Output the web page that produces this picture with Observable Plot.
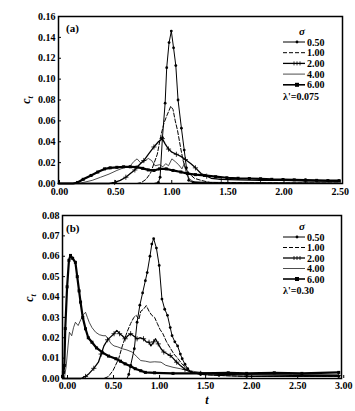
<!DOCTYPE html>
<html><head><meta charset="utf-8">
<script src="https://cdn.jsdelivr.net/npm/d3@7"></script>
<script src="https://cdn.jsdelivr.net/npm/@observablehq/plot@0.6"></script>
<style>
body{margin:0;background:#fff;}
#wrap{position:relative;width:355px;height:411px;overflow:hidden;background:#fff;}
#wrap svg{position:absolute;left:0;}
</style></head><body><div id="wrap"></div>
<script>
const sigmaLabels = ["0.50","1.00","2.00","4.00","6.00"];
const xTicksA = [0,0.5,1.0,1.5,2.0,2.5];
const yTicksA = [0,0.02,0.04,0.06,0.08,0.10,0.12,0.14,0.16];
const xTicksB = [0,0.5,1.0,1.5,2.0,2.5,3.0];
const yTicksB = [0,0.01,0.02,0.03,0.04,0.05,0.06,0.07,0.08];
const lambdaA = "λ'=0.075";
const lambdaB = "λ'=0.30";

// Panel (a) series: [t, c_t]
const a050 = [[0,0],[0.3,0],[0.6,0],[0.85,0],[0.89,0.001],[0.905,0.006],[0.926,0.044],[0.95,0.077],[0.964,0.111],[0.985,0.135],[1.005,0.146],[1.025,0.13],[1.045,0.113],[1.065,0.080],[1.095,0.053],[1.12,0.032],[1.14,0.015],[1.16,0.003],[1.2,0.001],[1.5,0.0005],[2.0,0.0003],[2.5,0.0002]];
const a100 = [[0,0],[0.7,0],[0.74,0.001],[0.78,0.004],[0.82,0.010],[0.85,0.019],[0.88,0.028],[0.91,0.045],[0.94,0.058],[0.965,0.065],[0.985,0.070],[1.0,0.074],[1.02,0.071],[1.04,0.060],[1.06,0.051],[1.09,0.033],[1.11,0.022],[1.13,0.015],[1.17,0.009],[1.21,0.005],[1.27,0.003],[1.35,0.001],[1.6,0.0008],[2.0,0.0005],[2.5,0.0004]];
const a200 = [[0,0],[0.45,0],[0.5,0.001],[0.55,0.003],[0.6,0.006],[0.64,0.0096],[0.68,0.013],[0.72,0.018],[0.76,0.022],[0.8,0.028],[0.85,0.035],[0.89,0.040],[0.925,0.043],[0.95,0.038],[0.98,0.033],[1.01,0.030],[1.05,0.028],[1.09,0.026],[1.13,0.023],[1.18,0.019],[1.22,0.015],[1.27,0.0096],[1.32,0.007],[1.36,0.005],[1.45,0.004],[1.6,0.0035],[1.8,0.003],[2.0,0.003],[2.2,0.0025],[2.5,0.002]];
const a400 = [[0,0],[0.18,0],[0.22,0.001],[0.3,0.003],[0.375,0.006],[0.45,0.009],[0.52,0.0125],[0.58,0.015],[0.64,0.017],[0.67,0.021],[0.70,0.0236],[0.73,0.020],[0.76,0.021],[0.8,0.024],[0.83,0.022],[0.86,0.017],[0.9,0.018],[0.93,0.016],[0.955,0.019],[0.98,0.017],[1.01,0.0236],[1.04,0.021],[1.07,0.018],[1.1,0.014],[1.12,0.019],[1.14,0.009],[1.17,0.004],[1.2,0.002],[1.3,0.0012],[1.5,0.001],[2.0,0.0008],[2.5,0.0005]];
const a600 = [[0,0],[0.13,0],[0.17,0.001],[0.22,0.004],[0.29,0.0077],[0.35,0.011],[0.41,0.014],[0.46,0.015],[0.52,0.0155],[0.58,0.016],[0.64,0.016],[0.7,0.0157],[0.75,0.0145],[0.8,0.013],[0.85,0.0125],[0.9,0.014],[0.96,0.014],[1.02,0.0125],[1.09,0.011],[1.15,0.0095],[1.22,0.0085],[1.3,0.0077],[1.4,0.0065],[1.5,0.0055],[1.6,0.005],[1.7,0.0048],[1.8,0.0045],[1.9,0.004],[2.0,0.0038],[2.1,0.0035],[2.2,0.0033],[2.3,0.003],[2.4,0.0028],[2.5,0.0027]];

// Panel (b) series: [t, c_t]
const b050 = [[0,0],[0.5,0],[0.70,0],[0.72,0.002],[0.74,0.0064],[0.78,0.0146],[0.81,0.0276],[0.84,0.036],[0.87,0.042],[0.9,0.048],[0.92,0.052],[0.95,0.060],[0.97,0.066],[0.99,0.0686],[1.02,0.064],[1.05,0.0555],[1.08,0.039],[1.11,0.034],[1.14,0.031],[1.17,0.025],[1.19,0.021],[1.22,0.018],[1.25,0.016],[1.28,0.012],[1.30,0.0097],[1.33,0.007],[1.36,0.0048],[1.4,0.003],[1.5,0.002],[1.7,0.0015],[2.0,0.001],[3.0,0.001]];
const b100 = [[0,0],[0.45,0],[0.5,0.001],[0.55,0.004],[0.61,0.0097],[0.65,0.016],[0.70,0.0227],[0.74,0.027],[0.775,0.030],[0.8,0.031],[0.83,0.029],[0.85,0.033],[0.88,0.034],[0.91,0.0358],[0.94,0.033],[0.97,0.031],[1.0,0.030],[1.03,0.027],[1.06,0.024],[1.09,0.022],[1.13,0.018],[1.17,0.015],[1.21,0.012],[1.25,0.010],[1.3,0.007],[1.35,0.005],[1.42,0.003],[1.5,0.002],[1.7,0.0015],[2.0,0.001],[3.0,0.001]];
const b200 = [[0,0],[0.2,0],[0.25,0.001],[0.29,0.0025],[0.34,0.005],[0.39,0.008],[0.42,0.012],[0.45,0.016],[0.49,0.019],[0.52,0.0203],[0.56,0.022],[0.59,0.0236],[0.62,0.022],[0.65,0.021],[0.68,0.0195],[0.71,0.021],[0.74,0.022],[0.77,0.021],[0.81,0.0195],[0.84,0.020],[0.88,0.0195],[0.91,0.018],[0.94,0.0178],[0.96,0.016],[0.99,0.018],[1.01,0.0195],[1.04,0.017],[1.07,0.0146],[1.1,0.013],[1.14,0.012],[1.17,0.0113],[1.2,0.010],[1.24,0.008],[1.28,0.0064],[1.33,0.0045],[1.4,0.003],[1.5,0.0025],[1.7,0.002],[2.0,0.0018],[2.5,0.0015],[3.0,0.0015]];
const b400 = [[0,0],[0.02,0],[0.04,0.006],[0.06,0.016],[0.075,0.0227],[0.1,0.021],[0.12,0.025],[0.14,0.0276],[0.17,0.026],[0.2,0.029],[0.23,0.0315],[0.25,0.0325],[0.27,0.030],[0.29,0.0276],[0.32,0.025],[0.36,0.0227],[0.4,0.0215],[0.44,0.021],[0.47,0.021],[0.5,0.019],[0.53,0.017],[0.56,0.016],[0.6,0.0155],[0.65,0.0146],[0.7,0.014],[0.76,0.0129],[0.8,0.011],[0.85,0.0088],[0.9,0.0085],[0.95,0.008],[1.0,0.0082],[1.07,0.008],[1.12,0.0065],[1.2,0.0055],[1.28,0.0048],[1.35,0.004],[1.5,0.003],[1.7,0.0025],[2.0,0.002],[2.5,0.002],[3.0,0.0018]];
const b600 = [[0,0.001],[0.01,0.003],[0.02,0.0064],[0.03,0.0245],[0.05,0.045],[0.07,0.058],[0.087,0.0604],[0.11,0.059],[0.14,0.057],[0.16,0.050],[0.18,0.043],[0.196,0.0375],[0.22,0.030],[0.25,0.0244],[0.28,0.020],[0.32,0.0178],[0.37,0.015],[0.43,0.0129],[0.5,0.011],[0.58,0.0097],[0.63,0.0085],[0.68,0.0072],[0.74,0.006],[0.79,0.0048],[0.85,0.0038],[0.9,0.003],[1.0,0.0028],[1.2,0.0025],[1.5,0.0025],[1.8,0.0028],[2.0,0.0025],[2.3,0.0028],[2.6,0.0025],[3.0,0.003]];

const seriesStyles = [
  {sw:1, dash:null, marker:"dot"},
  {sw:1, dash:"4,2", marker:null},
  {sw:1.3, dash:null, marker:"plus"},
  {sw:0.7, dash:null, marker:null},
  {sw:2.2, dash:null, marker:"square"}
];
const FONT = "'Liberation Serif','Times New Roman',serif";

function seriesMarks(data, st) {
  const m = [Plot.line(data, {x: d => d[0], y: d => d[1], stroke: "black", strokeWidth: st.sw, strokeDasharray: st.dash, curve: "linear"})];
  const pts = data.filter(d => d[1] > 0.0005);
  if (st.marker === "dot") m.push(Plot.dot(pts, {x: d => d[0], y: d => d[1], r: 1.4, fill: "black"}));
  if (st.marker === "plus") m.push(Plot.dot(pts.filter((d, i) => i % 2 === 0), {x: d => d[0], y: d => d[1], symbol: "plus", r: 1.8, stroke: "black", strokeWidth: 0.8}));
  if (st.marker === "square") m.push(Plot.dot(pts, {x: d => d[0], y: d => d[1], symbol: "square", r: 1.7, fill: "black"}));
  return m;
}

function makePanel(cfg) {
  const marks = [];
  cfg.series.forEach((s, i) => marks.push(...seriesMarks(s, seriesStyles[i])));
  const svg = Plot.plot({
    width: 355, height: cfg.height,
    marginLeft: cfg.ml, marginRight: cfg.mr, marginTop: cfg.mt, marginBottom: cfg.mb,
    style: {fontFamily: FONT, fontSize: "10px", fontWeight: "bold", background: "white", color: "black", overflow: "visible"},
    x: {domain: cfg.xdom, label: null},
    y: {domain: cfg.ydom, label: null},
    marks: [
      Plot.axisX({ticks: cfg.xticks, tickFormat: d => d.toFixed(2), tickSize: -3, tickPadding: cfg.xpad, label: null, textAnchor: "middle", dx: cfg.xdx}),
      Plot.axisY({ticks: cfg.yticks, tickFormat: d => d.toFixed(2), tickSize: -3, tickPadding: 6, label: null}),
      ...marks,
      Plot.frame({stroke: "black", strokeWidth: 1.5})
    ]
  });
  svg.style.top = cfg.top + "px";
  const g = d3.select(svg);
  g.append("text").attr("x", cfg.tag[1]).attr("y", cfg.tag[2]).attr("dy", "0.35em").attr("text-anchor", "start")
    .attr("font-family", FONT).attr("font-size", 11).attr("font-weight", "bold").text(cfg.tag[0]);
  const yl = g.append("text").attr("transform", `translate(${cfg.ylab[0]},${cfg.ylab[1]}) rotate(-90)`)
    .attr("text-anchor", "middle").attr("font-family", FONT).attr("font-size", 12).attr("font-weight", "bold");
  yl.append("tspan").attr("font-style", "italic").text("c");
  yl.append("tspan").attr("font-size", 8).attr("dy", 3).attr("font-style", "italic").text("t");
  const L = cfg.legend;
  const lg = g.append("g").attr("font-family", FONT).attr("font-size", 10).attr("font-weight", "bold").attr("text-anchor", "start");
  lg.append("text").attr("x", L.sx).attr("y", L.sy).attr("dy", "0.35em").attr("text-anchor", "middle")
    .attr("font-style", "italic").attr("font-size", 11).text("σ");
  sigmaLabels.forEach((lab, i) => {
    const y = L.y0 + i * L.dy;
    const st = seriesStyles[i];
    lg.append("line").attr("x1", L.x1).attr("x2", L.x2).attr("y1", y).attr("y2", y)
      .attr("stroke", "black").attr("stroke-width", Math.min(st.sw, 1.6)).attr("stroke-dasharray", st.dash);
    const mx = (L.x1 + L.x2) / 2 + 3;
    if (st.marker === "dot") lg.append("circle").attr("cx", mx).attr("cy", y).attr("r", 1.4);
    if (st.marker === "plus") [mx - 3, mx, mx + 3].forEach(px => lg.append("line").attr("x1", px).attr("x2", px).attr("y1", y - 2).attr("y2", y + 2).attr("stroke", "black").attr("stroke-width", 0.8));
    if (st.marker === "square") lg.append("rect").attr("x", mx - 2).attr("y", y - 2).attr("width", 4).attr("height", 4);
    lg.append("text").attr("x", L.tx).attr("y", y).attr("dy", "0.35em").attr("text-anchor", "start").text(lab);
  });
  lg.append("text").attr("x", L.lx).attr("y", L.y0 + 5 * L.dy + 0.5).attr("dy", "0.35em").attr("text-anchor", "start").text(cfg.lambda);
  if (cfg.xlab) {
    g.append("text").attr("x", cfg.xlab[0]).attr("y", cfg.xlab[1]).attr("dy", "0.35em").attr("text-anchor", "middle")
      .attr("font-family", FONT).attr("font-size", 12).attr("font-style", "italic").attr("font-weight", "bold").text("t");
  }
  return svg;
}

const wrap = document.getElementById("wrap");
wrap.appendChild(makePanel({
  top: 0, height: 200, ml: 58, mr: 13, mt: 16, mb: 17, xpad: 7, xdx: 1,
  xdom: [0, 2.53], ydom: [0, 0.16], xticks: xTicksA, yticks: yTicksA,
  series: [a050, a100, a200, a400, a600],
  tag: ["(a)", 66, 28], ylab: [30, 100], lambda: lambdaA,
  legend: {sx: 302, sy: 31, y0: 42, dy: 10.7, x1: 283, x2: 305, tx: 307, lx: 283}
}));
wrap.appendChild(makePanel({
  top: 200, height: 211, ml: 62, mr: 14, mt: 15, mb: 33, xpad: 6, xdx: 5,
  xdom: [0, 3.03], ydom: [0, 0.08], xticks: xTicksB, yticks: yTicksB,
  series: [b050, b100, b200, b400, b600],
  tag: ["(b)", 66, 28], ylab: [33, 98], lambda: lambdaB, xlab: [207, 200],
  legend: {sx: 302, sy: 26, y0: 37, dy: 10.5, x1: 283, x2: 305, tx: 307, lx: 283}
}));
</script></body></html>
